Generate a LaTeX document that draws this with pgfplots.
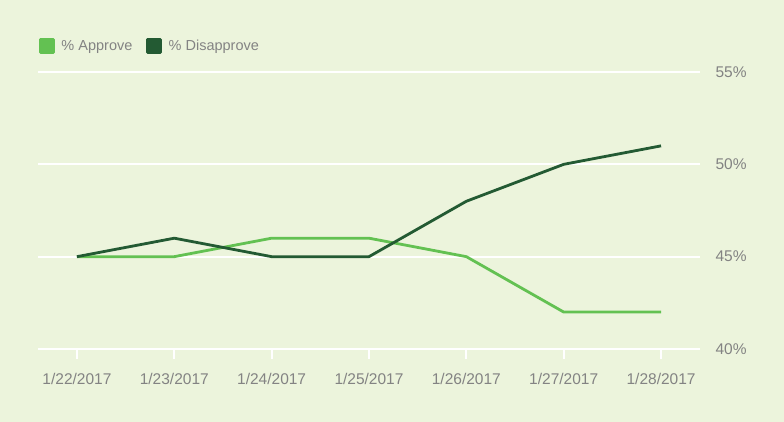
\documentclass[border=0pt]{standalone}
\usepackage{pgfplots}
\pgfplotsset{compat=1.18}
\usepackage{fontspec}
\setmainfont{Liberation Sans}
\definecolor{bg}{HTML}{ECF4DC}
\definecolor{appr}{HTML}{63C152}
\definecolor{disa}{HTML}{235A33}
\definecolor{txt}{HTML}{838383}
\begin{document}
\begin{tikzpicture}[x=1pt,y=1pt]
\fill[bg] (0,0) rectangle (784,422);
\begin{axis}[
  at={(38pt,73pt)}, anchor=south west,
  scale only axis, width=662pt, height=277pt,
  xmin=-0.4, xmax=6.4, ymin=40, ymax=55,
  xtick={0,...,6},
  xticklabels={1/22/2017,1/23/2017,1/24/2017,1/25/2017,1/26/2017,1/27/2017,1/28/2017},
  ytick={40,45,50,55},
  yticklabels={40\%,45\%,50\%,55\%},
  xtick pos=left,
  yticklabel pos=right,
  ytick style={draw=none},
  xtick style={draw=white, line width=2pt},
  tick align=outside,
  major tick length=10pt,
  ymajorgrids,
  major grid style={white, line width=2pt},
  axis line style={draw=none},
  tick label style={font=\fontsize{15.5}{17}\selectfont, text=txt},
  xticklabel style={yshift=-11pt},
  yticklabel style={anchor=west, xshift=2pt},
  clip=false,
  legend style={at={(rel axis cs:0.0015,1.094)}, anchor=west, draw=none, fill=none,
    font=\fontsize{14.5}{16}\selectfont, text=txt, legend columns=-1,
    nodes={inner xsep=0pt},
    /tikz/every odd column/.append style={column sep=6.5pt},
    /tikz/every even column/.append style={column sep=14pt}, inner xsep=0pt},
  legend image code/.code={\fill[#1] (0pt,-6.5pt) rectangle (13pt,6.5pt);},
]
\addplot[appr, line width=2.8pt, line join=round] coordinates {(0,45) (1,45) (2,46) (3,46) (4,45) (5,42) (6,42)};
\addlegendentry{\% Approve}
\addplot[disa, line width=2.8pt, line join=round] coordinates {(0,45) (1,46) (2,45) (3,45) (4,48) (5,50) (6,51)};
\addlegendentry{\% Disapprove}
\end{axis}
\end{tikzpicture}
\end{document}
